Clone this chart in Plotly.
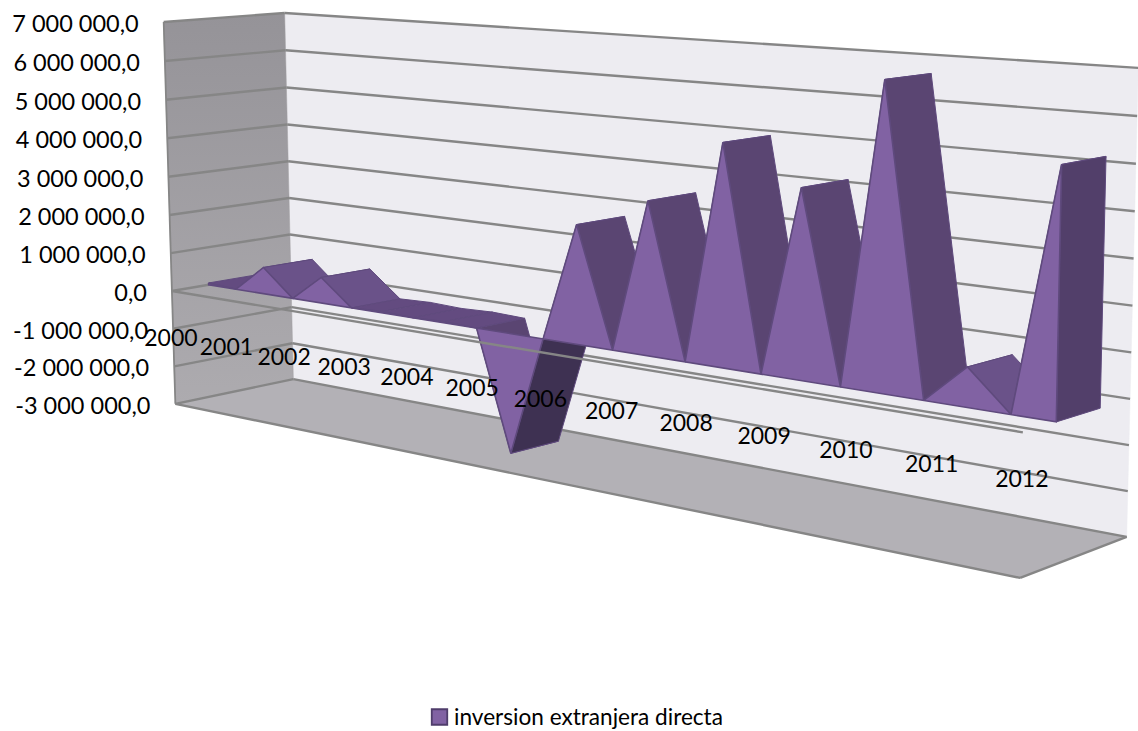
import numpy as np
import plotly.graph_objects as go

# Yearly foreign direct investment, with blank years between them plotted as zero
years = ["2000", "2001", "2002", "2003", "2004", "2005", "2006",
         "2007", "2008", "2009", "2010", "2011", "2012"]
inversion = [50000, 690000, 660000, 30000, 30000, -2930000, 2830000,
             3580000, 5070000, 4250000, 6720000, 860000, 5270000]
value_ticks = [7000000, 6000000, 5000000, 4000000, 3000000, 2000000,
               1000000, 0, -1000000, -2000000, -3000000]
series_name = "inversion extranjera directa"

V_MIN, V_MAX = -3000000, 7000000
DEPTH_FRONT, DEPTH_BACK = 0.30, 0.71

# Camera of the 3-D box: box corners (category, value, depth) and where they land on the page
box_corners = [
    (0, V_MIN, 0, 175, 404), (0, V_MAX, 0, 163, 22), (0, 0, 0, 173, 291),
    (1, V_MIN, 0, 1019, 578), (1, 0, 0, 1024, 432),
    (0, V_MIN, 1, 293, 379), (0, V_MAX, 1, 285, 13),
    (1, V_MIN, 1, 1127, 537), (1, V_MAX, 1, 1138, 68),
]


def fit_camera(corners):
    rows, rhs = [], []
    for u, v, w, px, py in corners:
        m = v / 1e6
        rows.append([u, m, w, 1, 0, 0, 0, 0, -px * u, -px * m, -px * w])
        rhs.append(px)
        rows.append([0, 0, 0, 0, u, m, w, 1, -py * u, -py * m, -py * w])
        rhs.append(py)
    sol = np.linalg.lstsq(np.array(rows, float), np.array(rhs, float), rcond=None)[0]
    return np.append(sol, 1.0).reshape(3, 4)


CAM = fit_camera(box_corners)


def project(u, v, w):
    h = CAM @ np.array([u, v / 1e6, w, 1.0])
    return h[0] / h[2], h[1] / h[2]


fig = go.Figure()


def poly(points, fill, line=None, width=1.0, gradient=None):
    xs, ys = zip(*[project(*p) for p in points])
    kw = dict(fillgradient=gradient) if gradient else dict(fillcolor=fill)
    fig.add_trace(go.Scatter(
        x=list(xs) + [xs[0]], y=list(ys) + [ys[0]], mode="lines", fill="toself",
        line=dict(color=line or fill, width=width), hoverinfo="skip",
        showlegend=False, **kw))


def seg(a, b, color="#868686", width=2.4):
    xs, ys = zip(project(*a), project(*b))
    fig.add_trace(go.Scatter(x=list(xs), y=list(ys), mode="lines",
                             line=dict(color=color, width=width),
                             hoverinfo="skip", showlegend=False))


# Walls and floor of the box
poly([(0, V_MIN, 1), (1, V_MIN, 1), (1, V_MAX, 1), (0, V_MAX, 1)], "#EDECF1", width=0.5)
poly([(0, V_MIN, 0), (0, V_MIN, 1), (0, V_MAX, 1), (0, V_MAX, 0)], "#A09EA2",
     gradient=dict(type="vertical",
                   colorscale=[[0, "#ADABAF"], [1, "#959398"]]), line="#A09EA2", width=0.5)
poly([(0, V_MIN, 0), (1, V_MIN, 0), (1, V_MIN, 1), (0, V_MIN, 1)], "#B3B1B6", width=0.5)

# Gridlines on the back and side walls
for t in value_ticks:
    seg((0, t, 1), (1, t, 1))
    seg((0, t, 0), (0, t, 1))
seg((0, V_MIN, 0), (0, V_MAX, 0), width=1.8)
seg((0, V_MIN, 0), (1, V_MIN, 0))
seg((1, V_MIN, 0), (1, V_MIN, 1))

# The area series: zero between consecutive years
series = []
for val in inversion:
    series += [val, 0]
series = series[:-1]
n = len(series)
us = [i / (n - 1) for i in range(n)]

for i in range(n - 1):
    a, b = series[i], series[i + 1]
    pts = [(us[i], a, DEPTH_FRONT), (us[i + 1], b, DEPTH_FRONT),
           (us[i + 1], b, DEPTH_BACK), (us[i], a, DEPTH_BACK)]
    if b > a and a < 0:
        color = "#3E3152"
    elif abs(a - b) < 200000:
        color = "#634B80"
    elif abs(a - b) < 1000000:
        color = "#6A5289"
    else:
        color = "#5A4572"
    poly(pts, color, line="#5F4A7D", width=1.0)

# End cap of the last year
poly([(1, series[-1], DEPTH_FRONT), (1, 0, DEPTH_FRONT),
      (1, 0, DEPTH_BACK), (1, series[-1], DEPTH_BACK)], "#523F6A", line="#5F4A7D", width=1.0)

# Front face of the area
front = [(u, s, DEPTH_FRONT) for u, s in zip(us, series)]
front += [(1, 0, DEPTH_FRONT), (0, 0, DEPTH_FRONT)]
poly(front, "#8162A3", line="#5F4A7D", width=1.6)

# Category axis along the front of the box at zero
seg((0, 0, 0), (1, 0, 0))

# Value labels
tx, ty = zip(*[project(0, t, 0) for t in value_ticks])
fig.add_trace(go.Scatter(
    x=[x - 25 for x in tx], y=[y + 4 for y in ty], mode="text",
    text=[f"{t:,.0f}".replace(",", " ") + ",0" for t in value_ticks],
    textposition="middle left", textfont=dict(family="Lato", size=23.5, color="#000000"),
    hoverinfo="skip", showlegend=False))

# Year labels
cx, cy = zip(*[project(i / (len(years) - 1), 0, 0) for i in range(len(years))])
fig.add_trace(go.Scatter(
    x=[x - 1 for x in cx], y=[y + 49 for y in cy], mode="text", text=years,
    textposition="middle center", textfont=dict(family="Lato", size=23, color="#000000"),
    hoverinfo="skip", showlegend=False))

# Legend swatch and caption
fig.add_trace(go.Scatter(
    x=[439.5], y=[717], mode="markers", hoverinfo="skip", showlegend=False,
    marker=dict(symbol="square", size=15.5, color="#8162A3",
                line=dict(color="#4F3D6B", width=1.8))))
fig.add_trace(go.Scatter(
    x=[454], y=[719], mode="text", text=[series_name], hoverinfo="skip", showlegend=False,
    textposition="middle right", textfont=dict(family="Lato", size=22.6, color="#000000")))

fig.update_layout(
    width=1138, height=731, margin=dict(l=0, r=0, t=0, b=0),
    paper_bgcolor="white", plot_bgcolor="white", showlegend=False,
    xaxis=dict(range=[0, 1138], visible=False, fixedrange=True),
    yaxis=dict(range=[731, 0], visible=False, fixedrange=True),
)
fig.write_html("out.html", config=dict(displayModeBar=False))
